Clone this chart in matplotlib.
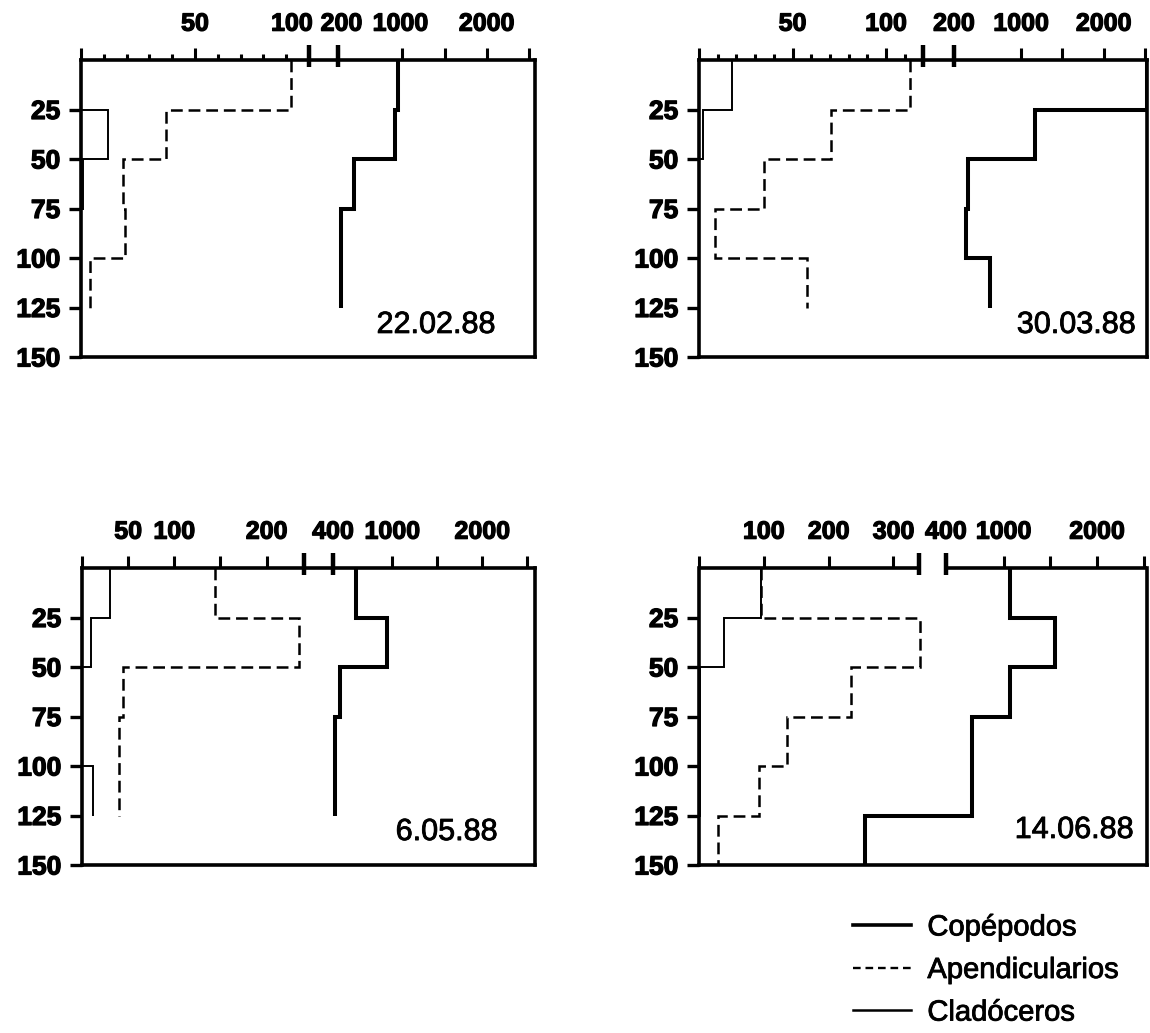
import numpy as np
import matplotlib
matplotlib.use('Agg')
import matplotlib.pyplot as plt
from matplotlib.lines import Line2D
from matplotlib.path import Path
from matplotlib.markers import MarkerStyle
import matplotlib.transforms as mtransforms
import matplotlib.patheffects as pe

plt.rcParams['font.family'] = ['Liberation Sans', 'DejaVu Sans']
plt.rcParams['lines.scale_dashes'] = False

# ---------------- data ----------------
depth_edges = [0, 25, 50, 75, 100, 125]
depth_edges_jun = [0, 25, 50, 75, 100, 125, 150]

dates = ['22.02.88', '30.03.88', '6.05.88', '14.06.88']
series_names = ['Copépodos', 'Apendicularios', 'Cladóceros']

copepodos_feb = [940, 910, 390, 230, 230]
apend_feb = [92, 37.5, 18.5, 19.5, 4]
clad_feb = [0, 12, 1, 0, 0]

copepodos_mar = [2520, 1170, 370, 345, 635]
apend_mar = [113, 70.5, 35, 8.5, 57.5]
clad_mar = [17.5, 2, 0, 0, 0]

copepodos_may = [636, 945, 473, 418, 418]
apend_may = [144, 235, 44, 40, 40]
clad_may = [30, 10, 0, 0, 11.5]

copepodos_jun = [1070, 1555, 1070, 670, 670, 256]
apend_jun = [95, 342, 235, 136, 92, 30]
clad_jun = [95, 38, 1, 1, 1, 0]

# broken-axis scale definitions (value knots -> fraction of axis)
scale_vals = [[0, 100, 200, 1000, 2575],
              [0, 120, 200, 1000, 2525],
              [0, 240, 400, 1000, 2587],
              [0, 340, 400, 1000, 2536]]
scale_frac = [[0, 0.502, 0.567, 0.708, 1.0],
              [0, 0.501, 0.569, 0.719, 1.0],
              [0, 0.489, 0.554, 0.685, 1.0],
              [0, 0.492, 0.551, 0.680, 1.0]]

major_ticks = [[0, 50, 100, 200, 1000, 1500, 2000, 2500],
               [0, 50, 100, 200, 1000, 1500, 2000, 2500],
               [0, 50, 100, 150, 200, 400, 1000, 1500, 2000, 2500],
               [0, 100, 200, 300, 400, 1000, 1500, 2000, 2500]]
major_labels = [['', '50', '100', '200', '1000', '', '2000', ''],
                ['', '50', '100', '200', '1000', '', '2000', ''],
                ['', '50', '100', '', '200', '400', '1000', '', '2000', ''],
                ['', '100', '200', '300', '400', '1000', '', '2000', '']]
minor_ticks = [[10, 20, 30, 40, 60, 70, 80, 90],
               [10, 20, 30, 40, 60, 70, 80, 90, 110],
               [], []]
break_marks = [[100, 200], [120, 200], [240, 400], [340, 400]]
depth_ticks = [25, 50, 75, 100, 125, 150]

# ---------------- figure ----------------
W, H = 1150, 1033
fig = plt.figure(figsize=(W / 100, H / 100), dpi=100)

boxes = [(81, 535, 60, 357), (699, 1147, 60, 357),
         (82, 535, 568, 865), (699, 1147, 568, 865)]
date_pos = [(0.912, 0.081), (0.975, 0.081), (0.917, 0.084), (0.970, 0.091)]
label_shift_px = [{'100': -17, '200': 3, '1000': -2}, {}, {}, {}]

panels = [
    (depth_edges, copepodos_feb, apend_feb, clad_feb),
    (depth_edges, copepodos_mar, apend_mar, clad_mar),
    (depth_edges, copepodos_may, apend_may, clad_may),
    (depth_edges_jun, copepodos_jun, apend_jun, clad_jun),
]

spine_lw = 2.6
brk_path = Path([(0, -0.45), (0, 1.0)], [Path.MOVETO, Path.LINETO])
heavy = [pe.withStroke(linewidth=0.9, foreground='black')]
semi = [pe.withStroke(linewidth=0.6, foreground='black')]

for i, (l, r, t, b) in enumerate(boxes):
    ax = fig.add_axes([l / W, 1 - b / H, (r - l) / W, (b - t) / H])
    kv = np.array(scale_vals[i], float)
    kf = np.array(scale_frac[i], float)
    fwd = (lambda v, kv=kv, kf=kf: np.interp(v, kv, kf))
    inv = (lambda p, kv=kv, kf=kf: np.interp(p, kf, kv))
    ax.set_xscale('function', functions=(fwd, inv))
    ax.set_xlim(0, kv[-1])
    ax.set_ylim(150, 0)

    edges, cop, ape, cla = panels[i]
    ax.stairs(cla, edges, orientation='horizontal', baseline=None,
              color='black', lw=1.4, zorder=3)
    ax.stairs(ape, edges, orientation='horizontal', baseline=None,
              color='black', lw=1.8, linestyle=(0, (8.5, 4.2)), zorder=3)
    ax.stairs(cop, edges, orientation='horizontal', baseline=None,
              color='black', lw=2.9, zorder=4, joinstyle='miter')

    for s in ax.spines.values():
        s.set_linewidth(spine_lw)
    ax.xaxis.tick_top()
    ax.set_xticks(major_ticks[i], major_labels[i])
    ax.set_xticks(minor_ticks[i], minor=True)
    ax.tick_params(axis='x', which='major', direction='out', length=8.5,
                   width=2.2, pad=9, labelsize=18)
    ax.tick_params(axis='x', which='minor', direction='out', length=4.5,
                   width=2.2)
    for lab in ax.get_xticklabels():
        lab.set_fontweight('bold')
        lab.set_path_effects(heavy)
        dx = label_shift_px[i].get(lab.get_text(), 0)
        if dx:
            lab.set_transform(lab.get_transform() +
                              mtransforms.ScaledTranslation(dx / 100, 0, fig.dpi_scale_trans))
    ax.set_yticks(depth_ticks, [str(d) for d in depth_ticks])
    ax.tick_params(axis='y', direction='out', length=9, width=2.4, pad=6,
                   labelsize=19)
    for lab in ax.get_yticklabels():
        lab.set_fontweight('bold')
        lab.set_path_effects(heavy)

    if i == 3:
        ax.spines['top'].set_visible(False)
        ax.plot([0, break_marks[i][0]], [0, 0], color='black', lw=spine_lw,
                clip_on=False, solid_capstyle='butt', zorder=5)
        ax.plot([break_marks[i][1], kv[-1]], [0, 0], color='black', lw=spine_lw,
                clip_on=False, solid_capstyle='butt', zorder=5)
    ax.plot(break_marks[i], [0] * len(break_marks[i]), ls='none',
            marker=MarkerStyle(brk_path), ms=22, mew=3.2, color='black',
            clip_on=False, zorder=6)

    tx, ty = date_pos[i]
    ax.text(tx, ty, dates[i], transform=ax.transAxes, ha='right',
            va='baseline', fontsize=22, path_effects=semi)

handles = [Line2D([], [], color='black', lw=2.6),
           Line2D([], [], color='black', lw=1.7, linestyle=(0, (5.5, 3.5))),
           Line2D([], [], color='black', lw=1.8)]
leg = fig.legend(handles, series_names, loc='center left',
                 bbox_to_anchor=(853 / W, 1 - 970 / H), frameon=False,
                 fontsize=21, handlelength=2.0, handletextpad=0.55,
                 labelspacing=0.5, borderpad=0, borderaxespad=0)
for txt in leg.get_texts():
    txt.set_path_effects(semi)

fig.savefig('out.png', dpi=100)
